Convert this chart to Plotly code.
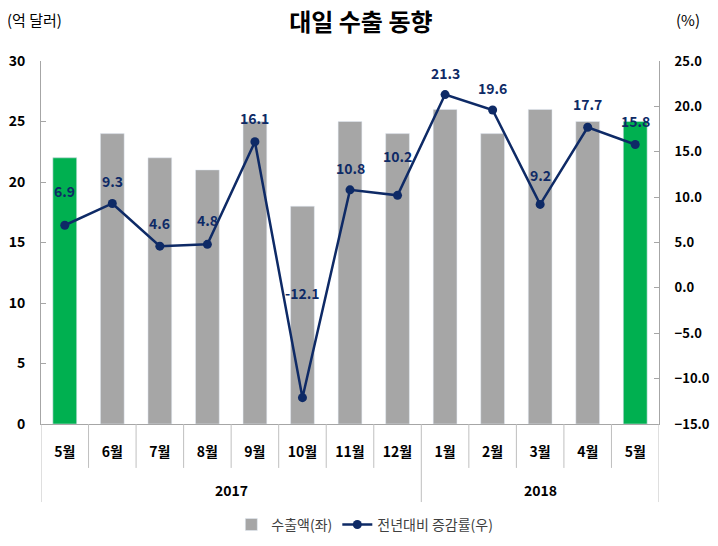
import plotly.graph_objects as go

years = ["2017"] * 8 + ["2018"] * 5
months = ["5월", "6월", "7월", "8월", "9월", "10월", "11월", "12월", "1월", "2월", "3월", "4월", "5월"]
exports = [22, 24, 22, 21, 25, 18, 25, 24, 26, 24, 26, 25, 25]
growth = [6.9, 9.3, 4.6, 4.8, 16.1, -12.1, 10.8, 10.2, 21.3, 19.6, 9.2, 17.7, 15.8]
highlight = [True] + [False] * 11 + [True]
label_offsets = [34, 22, 23, 24, 24, 105, 22, 39, 22, 22, 29, 23, 23]

FONT = "Noto Sans CJK KR"
NAVY = "#0E2A66"
AXIS = "#A6A6A6"
idx = list(range(len(months)))

fig = go.Figure()
fig.add_trace(go.Bar(x=idx, y=exports, name="수출액(좌)", marker_color="#A6A6A6",
                     width=0.5, yaxis="y"))
fig.add_trace(go.Bar(x=idx, y=[v if h else None for v, h in zip(exports, highlight)],
                     marker_color="#00B050", width=0.5, showlegend=False, yaxis="y"))
fig.add_trace(go.Scatter(x=idx, y=growth, name="전년대비 증감률(우)", yaxis="y2",
                         mode="lines+markers", cliponaxis=False,
                         line=dict(color=NAVY, width=2.5),
                         marker=dict(color=NAVY, size=9)))

annotations = []
for i, v, off in zip(idx, growth, label_offsets):
    annotations.append(dict(x=i, y=v, xref="x", yref="y2", yshift=off, text=f"<b>{v:.1f}</b>",
                            showarrow=False, yanchor="middle",
                            font=dict(family=FONT, size=14, color=NAVY)))

# category boundaries and year groups
shapes = []
for i in range(len(months) + 1):
    is_year_edge = i == 0 or i == len(months) or years[i] != years[i - 1]
    shapes.append(dict(type="line", xref="x", yref="paper", x0=i - 0.5, x1=i - 0.5,
                       y0=0, y1=-0.215 if is_year_edge else -0.121,
                       line=dict(color="#BFBFBF", width=1)))
for yv in dict.fromkeys(years):
    pos = [i for i, y in enumerate(years) if y == yv]
    annotations.append(dict(x=sum(pos) / len(pos), y=-0.182, xref="x", yref="paper",
                            text=f"<b>{yv}</b>", showarrow=False, yanchor="middle",
                            font=dict(family=FONT, size=14, color="black")))

annotations += [
    dict(text="(억 달러)", xref="paper", yref="paper", x=-0.058, y=1.113, xanchor="left",
         yanchor="middle", showarrow=False, font=dict(family=FONT, size=15, color="black")),
    dict(text="(%)", xref="paper", yref="paper", x=1.07, y=1.113, xanchor="right",
         yanchor="middle", showarrow=False, font=dict(family=FONT, size=15, color="black")),
]

fig.update_layout(
    width=710, height=538,
    margin=dict(l=33, r=59, t=53, b=122, autoexpand=False),
    paper_bgcolor="white", plot_bgcolor="white",
    barmode="overlay",
    font=dict(family=FONT, color="black"),
    title=dict(text="<b>대일 수출 동향</b>", x=0.497, xanchor="center", y=0.972, yanchor="middle",
               font=dict(size=24, family=FONT, color="black")),
    xaxis=dict(range=[-0.5, len(months) - 0.5], tickvals=idx, ticktext=months,
               showline=True, linecolor=AXIS, linewidth=1, showgrid=False, zeroline=False,
               ticks="outside", tickcolor="rgba(0,0,0,0)", ticklen=15,
               tickfont=dict(family=FONT, size=14, weight="bold", color="black")),
    yaxis=dict(range=[0, 30], dtick=5, showgrid=False, showline=True, linecolor=AXIS,
               ticks="inside", tickcolor=AXIS, ticklen=5, zeroline=False,
               ticklabelstandoff=12,
               tickfont=dict(family=FONT, size=14, weight="bold", color="black")),
    yaxis2=dict(range=[-15, 25], dtick=5, overlaying="y", side="right", showgrid=False,
                showline=True, linecolor=AXIS, ticks="inside", tickcolor=AXIS,
                ticklen=5, zeroline=False, tickformat=".1f", ticklabelstandoff=12,
                tickfont=dict(family=FONT, size=13, weight="bold", color="black")),
    legend=dict(orientation="h", x=0.524, xanchor="center", y=-0.278, yanchor="middle",
                font=dict(family=FONT, size=14, color="#404040")),
    shapes=shapes,
    annotations=annotations,
)

fig.write_html("out.html")
